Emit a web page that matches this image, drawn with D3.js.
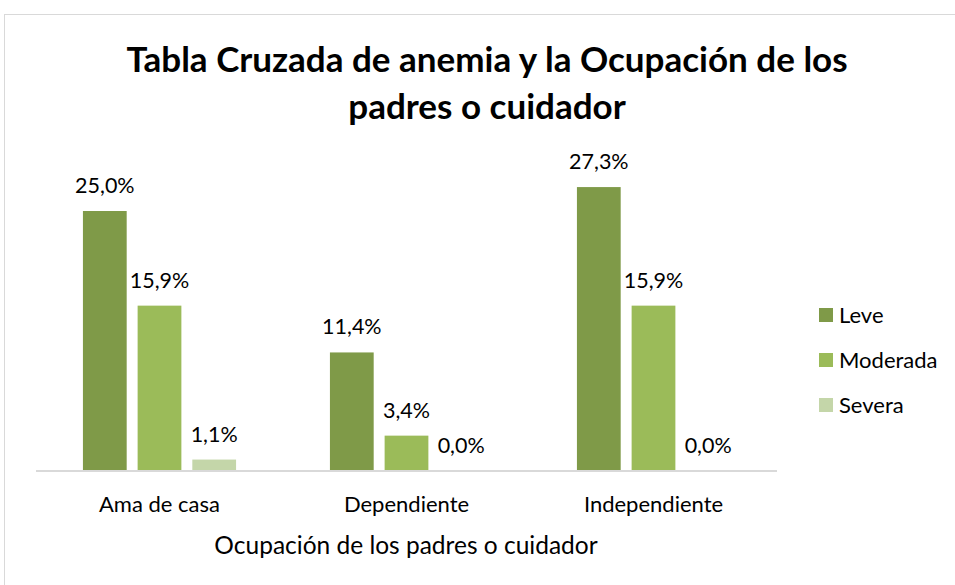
<!DOCTYPE html>
<html lang="es">
<head>
<meta charset="UTF-8">
<title>Tabla Cruzada de anemia</title>
<script src="https://d3js.org/d3.v7.min.js"></script>
<style>
    body { margin: 0; background: #fff; font-family: 'Lato', 'Open Sans', sans-serif; }
    svg text { fill: #000; }
</style>
</head>
<body>
<svg id="chart" width="955" height="585"></svg>
<script>
    var categories = ["Ama de casa", "Dependiente", "Independiente"];
    var series = ["Leve", "Moderada", "Severa"];
    var leve = [25.0, 11.4, 27.3];
    var moderada = [15.9, 3.4, 15.9];
    var severa = [1.1, 0.0, 0.0];
    var colors = ["#7f9a48", "#9bbb59", "#c4d6a9"];

    var values = [leve, moderada, severa];
    var data = categories.map(function(c, i) {
        return { cat: c, vals: series.map(function(s, j) { return { key: s, value: values[j][i] }; }) };
    });

    var svg = d3.select("#chart");

    // chart border
    svg.append("rect").attr("x", 4.5).attr("y", 14.5).attr("width", 960).attr("height", 580)
        .attr("fill", "#fff").attr("stroke", "#d9d9d9").attr("stroke-width", 1);

    var x0 = d3.scaleBand().domain(categories).range([36, 777]).paddingInner(0.38).paddingOuter(0.19);
    var x1 = d3.scaleBand().domain(series).range([0, x0.bandwidth()]).paddingInner(0.2);
    var y = d3.scaleLinear().domain([0, 30]).range([471, 159]);

    // title
    svg.append("text").attr("x", 487).attr("y", 72).attr("text-anchor", "middle")
        .style("font-size", "35px").style("font-weight", "bold").text("Tabla Cruzada de anemia y la Ocupación de los");
    svg.append("text").attr("x", 487).attr("y", 119).attr("text-anchor", "middle")
        .style("font-size", "35px").style("font-weight", "bold").text("padres o cuidador");

    var g = svg.selectAll(".grp").data(data).enter().append("g")
        .attr("transform", function(d) { return "translate(" + x0(d.cat) + ",0)"; });

    g.selectAll("rect").data(function(d) { return d.vals; }).enter().append("rect")
        .attr("x", function(d) { return x1(d.key); })
        .attr("y", function(d) { return y(d.value); })
        .attr("width", x1.bandwidth())
        .attr("height", function(d) { return y(0) - y(d.value); })
        .attr("fill", function(d, i) { return colors[i]; });

    g.selectAll(".lbl").data(function(d) { return d.vals; }).enter().append("text")
        .attr("x", function(d) { return x1(d.key) + x1.bandwidth() / 2; })
        .attr("y", function(d) { return y(d.value) - 18; })
        .attr("text-anchor", "middle")
        .style("font-size", "21.5px")
        .text(function(d) { return d.value.toFixed(1).replace(".", ",") + "%"; });

    // axis
    var xAxis = svg.append("g").attr("transform", "translate(0,471)")
        .call(d3.axisBottom(x0).tickSize(0).tickPadding(25));
    xAxis.select(".domain").attr("stroke", "#d9d9d9").attr("stroke-width", 2).attr("d", "M36,0H777");
    xAxis.selectAll("text").style("font-size", "22px").style("font-family", "Lato, sans-serif").attr("fill", "#000");

    svg.append("text").attr("x", 406).attr("y", 554).attr("text-anchor", "middle")
        .style("font-size", "24.5px").text("Ocupación de los padres o cuidador");

    // legend
    var leg = svg.selectAll(".leg").data(series).enter().append("g")
        .attr("transform", function(d, i) { return "translate(819," + (308 + i * 45) + ")"; });
    leg.append("rect").attr("width", 14).attr("height", 14).attr("fill", function(d, i) { return colors[i]; });
    leg.append("text").attr("x", 20).attr("y", 15).style("font-size", "22px").text(function(d) { return d; });
</script>
</body>
</html>
